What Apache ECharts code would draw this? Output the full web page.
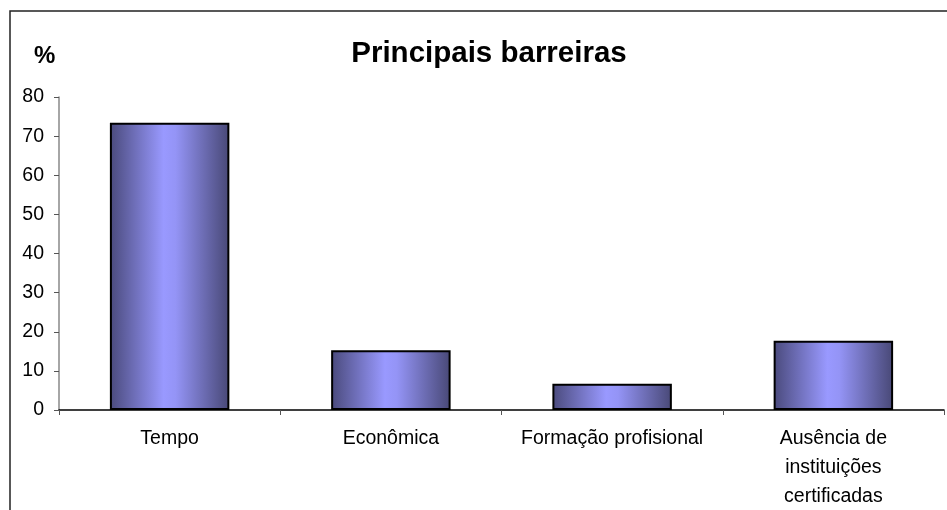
<!DOCTYPE html>
<html><head><meta charset="utf-8">
<script src="https://cdn.jsdelivr.net/npm/echarts@6/dist/echarts.min.js"></script>
<style>html,body{margin:0;padding:0;background:#fff}#c{width:947px;height:510px}</style>
</head><body><div id="c"></div>
<script>
const categories = ["Tempo", "Econômica", "Formação profisional", "Ausência de\ninstituições\ncertificadas"];
const values = [73.4, 15.3, 6.7, 17.7];
const yTicks = { min: 0, max: 80, interval: 10 };
const titleText = "Principais barreiras";
const unitText = "%";

const chart = echarts.init(document.getElementById('c'), null, {renderer: 'canvas'});
const barGrad = new echarts.graphic.LinearGradient(0, 0, 1, 0, [
  {offset: 0, color: '#4a4a7c'},
  {offset: 0.45, color: '#9999ff'},
  {offset: 0.55, color: '#9494f6'},
  {offset: 1, color: '#484876'}
]);
chart.setOption({
  animation: false,
  backgroundColor: '#fff',
  title: {
    text: titleText, left: 484, top: 34, textAlign: 'center',
    textStyle: {fontFamily: 'Liberation Sans', fontSize: 29.5, fontWeight: 'bold', color: '#000'}
  },
  graphic: [
    {type: 'rect', shape: {x: 10, y: 11, width: 1000, height: 600}, style: {fill: 'none', stroke: '#222', lineWidth: 1.5}, silent: true},
    {type: 'text', left: 34, top: 44, style: {text: unitText, font: 'bold 24px "Liberation Sans"', fill: '#000'}}
  ],
  grid: {left: 59, right: 3, top: 97, bottom: 100, containLabel: false, outerBoundsMode: 'none'},
  xAxis: {
    type: 'category', data: categories,
    axisLine: {lineStyle: {color: '#000', width: 1.5}},
    axisTick: {show: true, alignWithLabel: false, length: 5, lineStyle: {color: '#555'}},
    axisLabel: {fontFamily: 'Liberation Sans', fontSize: 19.5, color: '#000', margin: 14, lineHeight: 29, interval: 0}
  },
  yAxis: {
    type: 'value', min: yTicks.min, max: yTicks.max, interval: yTicks.interval,
    axisLine: {show: true, lineStyle: {color: '#888', width: 1.5}},
    axisTick: {show: true, length: 5, lineStyle: {color: '#555'}},
    splitLine: {show: false},
    axisLabel: {fontFamily: 'Liberation Sans', fontSize: 19.5, color: '#000', margin: 15}
  },
  series: [{
    type: 'bar', data: values, barWidth: '54%',
    itemStyle: {color: barGrad, borderColor: '#000', borderWidth: 2}
  }]
});
</script></body></html>
